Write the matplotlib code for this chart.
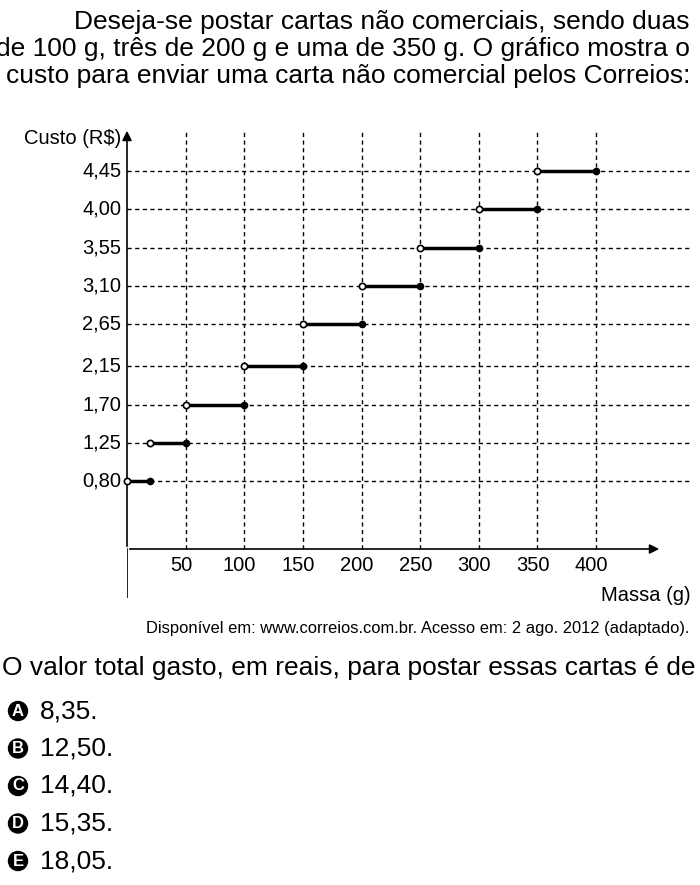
import matplotlib
matplotlib.use("Agg")
import matplotlib.pyplot as plt

plt.rcParams['font.family'] = ['Liberation Sans', 'DejaVu Sans']

starts = [0, 20, 50, 100, 150, 200, 250, 300, 350]
ends = [20, 50, 100, 150, 200, 250, 300, 350, 400]
costs = [0.80, 1.25, 1.70, 2.15, 2.65, 3.10, 3.55, 4.00, 4.45]
xticks = [50, 100, 150, 200, 250, 300, 350, 400]
ytick_labels = ["0,80", "1,25", "1,70", "2,15", "2,65", "3,10", "3,55", "4,00", "4,45"]
options = [("A", "8,35."), ("B", "12,50."), ("C", "14,40."), ("D", "15,35."), ("E", "18,05.")]

fig = plt.figure(figsize=(7, 8.85), dpi=100)
W, H = 700, 885
def fy(p): return 1 - p / H

fs = 19
fig.text(0.985, fy(22), "Deseja-se postar cartas não comerciais, sendo duas", ha='right', va='center', fontsize=fs)
fig.text(0.985, fy(49), "de 100 g, três de 200 g e uma de 350 g. O gráfico mostra o", ha='right', va='center', fontsize=fs)
fig.text(0.008, fy(76), "custo para enviar uma carta não comercial pelos Correios:", ha='left', va='center', fontsize=fs)

ax = fig.add_axes([127/W, 1-598/H, (690-127)/W, (598-128)/H])
sx = 1.1725
ax.set_xlim(0, (690-127)/sx)
ax.set_ylim(-(598-549)/84.9, (549-128)/84.9)
for s in ax.spines.values():
    s.set_visible(False)
ax.set_xticks([]); ax.set_yticks([])
ymin, ymax = ax.get_ylim()
xmax_arrow = (662-127)/sx
ax.annotate("", xy=(xmax_arrow, 0), xytext=(0, 0),
            arrowprops=dict(arrowstyle='-|>', color='black', lw=1.2, mutation_scale=14))
ax.plot([0, 0], [ymin, 0], color='black', lw=1.2)
ax.annotate("", xy=(0, ymax), xytext=(0, 0),
            arrowprops=dict(arrowstyle='-|>', color='black', lw=1.2, mutation_scale=14))
tfs = 14.5
for c, lab in zip(costs, ytick_labels):
    ax.plot([0, ax.get_xlim()[1]], [c, c], color='black', lw=1, ls=(0, (3, 2.5)))
    ax.text(-5, c, lab, ha='right', va='center', fontsize=tfs, clip_on=False)
for x in xticks:
    ax.plot([x, x], [0, ymax - 0.05], color='black', lw=1, ls=(0, (3, 2.5)))
    ax.text(x - 4, -0.2, str(x), ha='center', va='center', fontsize=tfs)
ax.text(-5, ymax - 0.12, "Custo (R$)", ha='right', va='center', fontsize=tfs, clip_on=False)
ax.text(xmax_arrow + 24, -0.55, "Massa (g)", ha='right', va='center', fontsize=tfs)
for a, b, c in zip(starts, ends, costs):
    ax.plot([a, b], [c, c], color='black', lw=2.5, solid_capstyle='butt', zorder=3)
    ax.plot(a, c, 'o', ms=4.5, mfc='white', mec='black', mew=1.2, zorder=4, clip_on=False)
    ax.plot(b, c, 'o', ms=4.5, mfc='black', mec='black', zorder=4, clip_on=False)

fig.text(0.985, fy(629), "Disponível em: www.correios.com.br. Acesso em: 2 ago. 2012 (adaptado).", ha='right', va='center', fontsize=11.9)
fig.text(0.003, fy(668), "O valor total gasto, em reais, para postar essas cartas é de", ha='left', va='center', fontsize=fs)
for i, (l, t) in enumerate(options):
    y = fy(711 + 37.5 * i)
    fig.text(18/W, y, l, ha='center', va='center', fontsize=12, color='white', fontweight='bold',
             bbox=dict(boxstyle='circle,pad=0.12', fc='black', ec='black'))
    fig.text(40/W, y, t, ha='left', va='center', fontsize=fs)

fig.savefig("out.png", dpi=100)
